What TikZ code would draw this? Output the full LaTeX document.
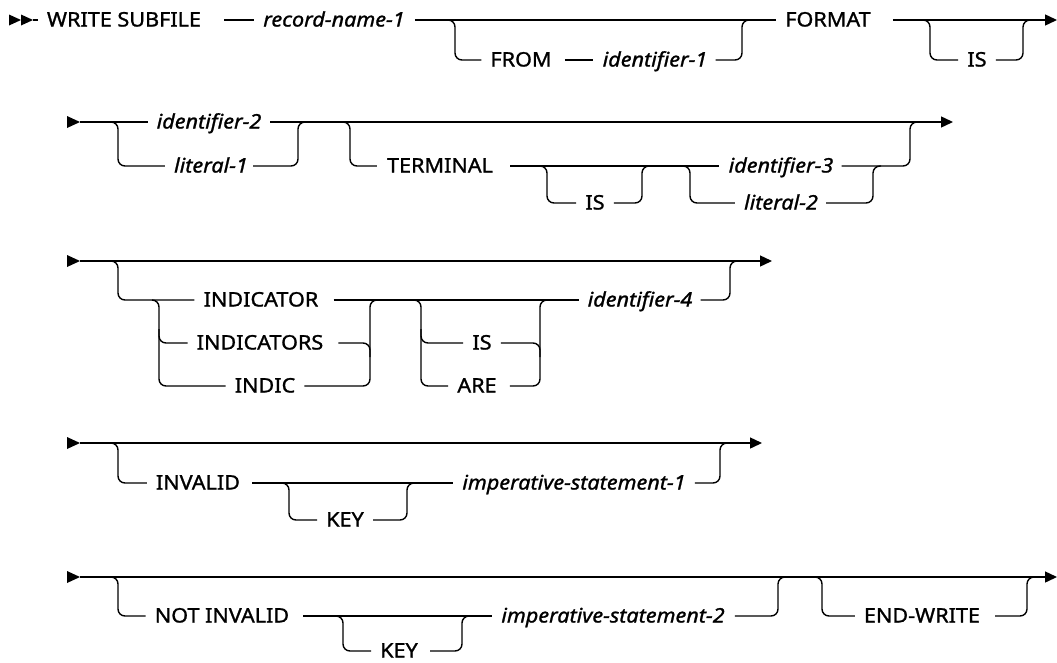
\documentclass[tikz,border=0pt]{standalone}
\usepackage{fontspec}
\setmainfont{Noto Sans}[RawFeature={embolden=1.2}, FakeStretch=1.08]
\usetikzlibrary{arrows.meta}
\begin{document}
\begin{tikzpicture}[x=1pt,y=-1pt,
  rail/.style={line width=1.4pt, rounded corners=7pt},
  railarrow/.style={line width=1.4pt, -{Triangle[length=12pt,width=11pt]}},
  kw/.style={inner sep=0pt, text height=13pt, text depth=0pt, font=\fontsize{20}{22}\selectfont},
  var/.style={kw, font=\fontsize{20}{22}\selectfont\itshape},
  startmark/.style={fill=black}]
\useasboundingbox (0,0) rectangle (1057,662);

% ---------------- row 1 ----------------
\coordinate (s1) at (9,20);
\fill[startmark] (s1) ++(0,-5.5) -- ++(12,5.5) -- ++(-12,5.5) -- cycle;
\fill[startmark] (s1) ++(12,-5.5) -- ++(12,5.5) -- ++(-12,5.5) -- cycle;
\node[kw]  (ws)   at (124,20) {WRITE SUBFILE};
\node[var] (rn)   at (334,20) {record-name-1};
\node[kw]  (from) at (521,60) {FROM};
\node[var] (id1)  at (655,60) {identifier-1};
\node[kw]  (fmt)  at (828,20) {FORMAT};
\node[kw]  (is1)  at (977,60) {IS};
\coordinate (e1) at (1057,20);
\coordinate (b1a) at (447,20);
\coordinate (j1a) at (742,20);
\coordinate (b1b) at (922,20);
\coordinate (j1b) at (1023,20);

\draw[rail] ([xshift=24]s1) -- ([xshift=-9]ws.west);
\draw[rail] ([xshift=23]ws.east) -- ([xshift=-9]rn.west);
\draw[rail] ([xshift=10]rn.east) -- ([xshift=-9]fmt.west);
\draw[rail] (b1a) -- ++(8,0) |- ([xshift=-9]from.west);
\draw[rail] ([xshift=13]from.east) -- ([xshift=-10]id1.west);
\draw[rail] ([xshift=8]id1.east) -| (j1a) -- ++(8,0);
\draw[railarrow] ([xshift=22]fmt.east) -- (e1);
\draw[rail] (b1b) -- ++(8,0) |- ([xshift=-9]is1.west);
\draw[rail] ([xshift=9]is1.east) -| (j1b) -- ++(8,0);

% ---------------- row 2 ----------------
\coordinate (s2) at (67,122);
\fill[startmark] (s2) ++(0,-6) -- ++(13,6) -- ++(-13,6) -- cycle;
\node[var] (id2)  at (209,122) {identifier-2};
\node[var] (lit1) at (211,166) {literal-1};
\node[kw]  (term) at (440,166) {TERMINAL};
\node[kw]  (is2)  at (595,203) {IS};
\node[var] (id3)  at (781,166) {identifier-3};
\node[var] (lit2) at (781,203) {literal-2};
\coordinate (e2) at (953,122);
\coordinate (b2a) at (111,122);
\coordinate (j2a) at (298,122);
\coordinate (b2b) at (342,122);
\coordinate (b2c) at (539,166);
\coordinate (j2c) at (642,166);
\coordinate (b2d) at (682,166);
\coordinate (j2d) at (873,166);
\coordinate (j2b) at (910,122);

\draw[rail] ([xshift=13]s2) -- ([xshift=-9]id2.west);
\draw[railarrow] ([xshift=9]id2.east) -- (e2);
\draw[rail] (b2a) -- ++(7,0) |- ([xshift=-9]lit1.west);
\draw[rail] ([xshift=5]lit1.east) -| (j2a) -- ++(8,0);
\draw[rail] (b2b) -- ++(8,0) |- ([xshift=-10]term.west);
\draw[rail] ([xshift=17]term.east) -- ([xshift=-10]id3.west);
\draw[rail] (b2c) -- ++(8,0) |- ([xshift=-9]is2.west);
\draw[rail] ([xshift=9]is2.east) -| (j2c) -- ++(8,0);
\draw[rail] (b2d) -- ++(8,0) |- ([xshift=-9]lit2.west);
\draw[rail] ([xshift=8]lit2.east) -| (j2d) -- ++(8,0);
\draw[rail] ([xshift=8]id3.east) -| (j2b) -- ++(8,0);

% ---------------- row 3 ----------------
\coordinate (s3) at (67,261);
\fill[startmark] (s3) ++(0,-6) -- ++(13,6) -- ++(-13,6) -- cycle;
\node[kw]  (ind)   at (261,300) {INDICATOR};
\node[kw]  (inds)  at (260,343) {INDICATORS};
\node[kw]  (indic) at (265,386) {INDIC};
\node[kw]  (is3)   at (482,343) {IS};
\node[kw]  (are)   at (477,386) {ARE};
\node[var] (id4)   at (640,300) {identifier-4};
\coordinate (e3) at (772,261);
\coordinate (b3a) at (111,261);
\coordinate (b3b) at (152,300);
\coordinate (j3b) at (370,300);
\coordinate (b3c) at (413,300);
\coordinate (j3c) at (540,300);
\coordinate (j3a) at (730,261);

\draw[railarrow] ([xshift=13]s3) -- (e3);
\draw[rail] (b3a) -- ++(7,0) |- ([xshift=-9]ind.west);
\draw[rail] ([xshift=15]ind.east) -- ([xshift=-9]id4.west);
% INDICATOR / INDICATORS / INDIC
\draw[rail] (b3b) -- ++(7,0) |- ([xshift=-9]indic.west);
\draw[rail] ([xshift=7]b3b |- inds.west) ++(0,-14) |- ([xshift=-9]inds.west);
\draw[rail] ([xshift=9]indic.east) -| (j3b) -- ++(8,0);
\draw[rail] ([xshift=15]inds.east) -| ([yshift=-14]j3b |- inds.east);
% IS / ARE
\draw[rail] (b3c) -- ++(8,0) |- ([xshift=-9]are.west);
\draw[rail] ([xshift=8]b3c |- is3.west) ++(0,-14) |- ([xshift=-9]is3.west);
\draw[rail] ([xshift=13]are.east) -| (j3c) -- ++(8,0);
\draw[rail] ([xshift=9]is3.east) -| ([yshift=-14]j3c |- is3.east);
\draw[rail] ([xshift=8]id4.east) -| (j3a) -- ++(8,0);

% ---------------- row 4 ----------------
\coordinate (s4) at (67,443);
\fill[startmark] (s4) ++(0,-6) -- ++(13,6) -- ++(-13,6) -- cycle;
\node[kw]  (inv)  at (198,483) {INVALID};
\node[kw]  (key1) at (345,520) {KEY};
\node[var] (imp1) at (574,483) {imperative-statement-1};
\coordinate (e4) at (762,443);
\coordinate (b4a) at (111,443);
\coordinate (b4b) at (281,483);
\coordinate (j4b) at (407,483);
\coordinate (j4a) at (720,443);

\draw[railarrow] ([xshift=13]s4) -- (e4);
\draw[rail] (b4a) -- ++(7,0) |- ([xshift=-9]inv.west);
\draw[rail] ([xshift=12]inv.east) -- ([xshift=-9]imp1.west);
\draw[rail] (b4b) -- ++(8,0) |- ([xshift=-9]key1.west);
\draw[rail] ([xshift=9]key1.east) -| (j4b) -- ++(8,0);
\draw[rail] ([xshift=9]imp1.east) -| (j4a) -- ++(8,0);

% ---------------- row 5 ----------------
\coordinate (s5) at (67,577);
\fill[startmark] (s5) ++(0,-6) -- ++(13,6) -- ++(-13,6) -- cycle;
\node[kw]  (ninv) at (222,616) {NOT INVALID};
\node[kw]  (key2) at (399,651) {KEY};
\node[var] (imp2) at (613,616) {imperative-statement-2};
\node[kw]  (ew)   at (922,616) {END-WRITE};
\coordinate (e5) at (1057,577);
\coordinate (b5a) at (111,577);
\coordinate (b5b) at (335,616);
\coordinate (j5b) at (462,616);
\coordinate (j5a) at (778,577);
\coordinate (b5c) at (814,577);
\coordinate (j5c) at (1027,577);

\draw[railarrow] ([xshift=13]s5) -- (e5);
\draw[rail] (b5a) -- ++(7,0) |- ([xshift=-9]ninv.west);
\draw[rail] ([xshift=14]ninv.east) -- ([xshift=-9]imp2.west);
\draw[rail] (b5b) -- ++(8,0) |- ([xshift=-9]key2.west);
\draw[rail] ([xshift=12]key2.east) -| (j5b) -- ++(8,0);
\draw[rail] ([xshift=10]imp2.east) -| (j5a) -- ++(8,0);
\draw[rail] (b5c) -- ++(8,0) |- ([xshift=-9]ew.west);
\draw[rail] ([xshift=15]ew.east) -| (j5c) -- ++(8,0);
\end{tikzpicture}
\end{document}
